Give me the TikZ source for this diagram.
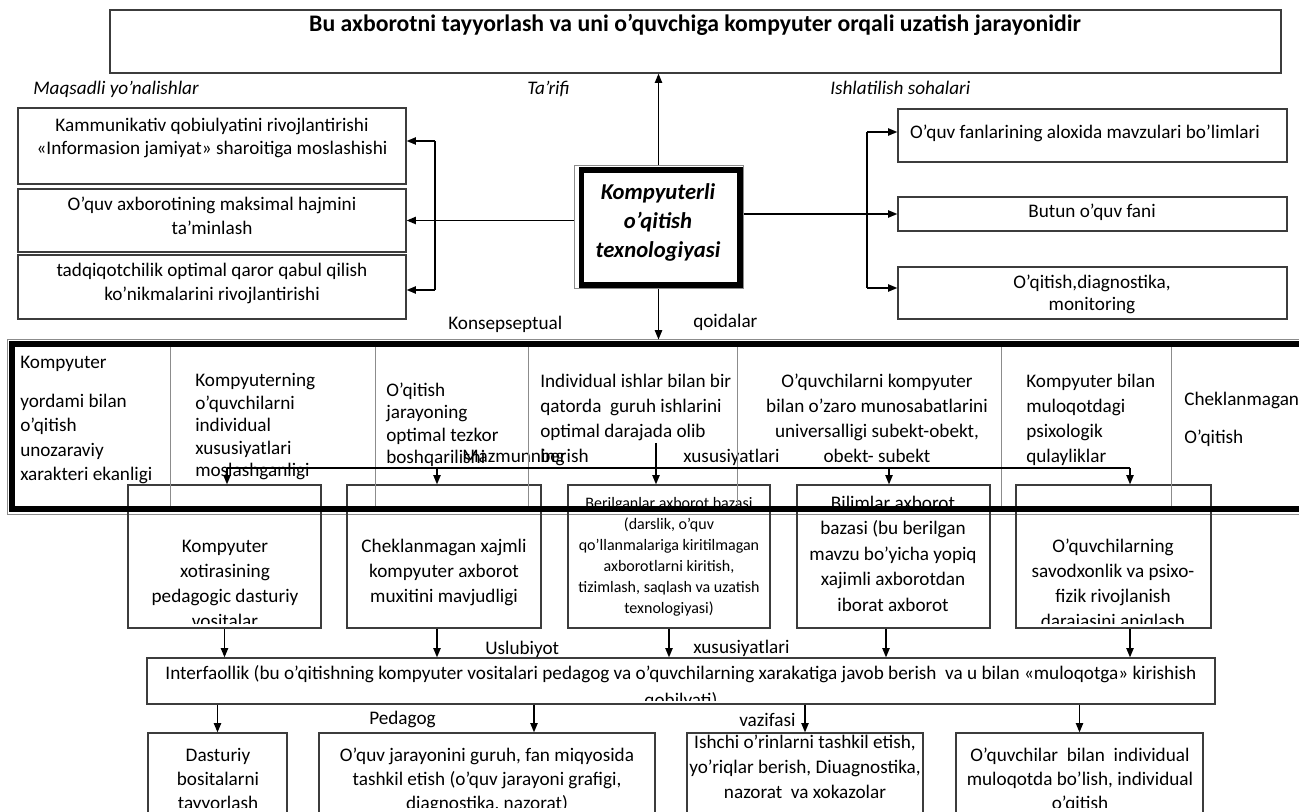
\documentclass[tikz,border=0pt]{standalone}
\usepackage{fontspec}
\setmainfont{Carlito}
\usetikzlibrary{arrows.meta,fit,calc}
\definecolor{boxc}{RGB}{60,60,60}
\definecolor{grayc}{RGB}{140,140,140}
\begin{document}
\begin{tikzpicture}[x=0.75pt,y=-0.75pt,
  box/.style={draw=boxc, line width=0.95pt, inner sep=0pt},
  ln/.style={draw=black, line width=1.05pt},
  arr/.style={ln, -{Triangle[length=7pt,width=5.5pt]}},
  txt/.style={inner sep=0pt, align=center, anchor=base, font=\fontsize{14.4}{18}\selectfont},
  ltxt/.style={txt, align=left, anchor=base west},
  lab/.style={ltxt, font=\itshape\fontsize{14.4}{18}\selectfont},
  coll/.style={draw=grayc, line width=0.6pt},
  thickbd/.style={draw=black, line width=3.8pt}
]
\useasboundingbox (0,0) rectangle (1299,812);
\fill[white] (0,0) rectangle (1299,812);
\clip (0,0) rectangle (1299,812);

% ---------- title ----------
\node[box, fit={(110,10) (1281,73)}] (T) {};
\node[txt, font=\bfseries\fontsize{17.8}{21}\selectfont] (Tt) at (695,32) {Bu axborotni tayyorlash va uni o’quvchiga kompyuter orqali uzatish jarayonidir};

\node[lab] (lm) at (33,95) {Maqsadli yo’nalishlar};
\node[lab] (lt) at (527,95) {Ta’rifi};
\node[lab] (li) at (830,95) {Ishlatilish sohalari};

% ---------- left boxes ----------
\node[box, fit={(18,108) (406,184)}] (L1) {};
\node[txt, font=\fontsize{14.4}{17.25}\selectfont] (L1t) at (212,155) {Kammunikativ qobiulyatini rivojlantirishi\\«Informasion jamiyat» sharoitiga moslashishi};
\node[box, fit={(18,189) (406,252)}] (L2) {};
\node[txt] (L2t) at (212,235) {O’quv axborotining maksimal hajmini\\ta’minlash};
\node[box, fit={(18,255) (406,319)}] (L3) {};
\node[txt] (L3t) at (212,301) {tadqiqotchilik optimal qaror qabul qilish\\ko’nikmalarini rivojlantirishi};

% ---------- centre ----------
\node[fit={(574,166) (743,289)}, inner sep=0pt, draw=grayc, line width=0.75pt] (C) {};
\draw[thickbd] ($(C.north west)+(8,4.5)$) rectangle ($(C.south east)+(-3.5,-4.5)$);
\node[txt, font=\bfseries\itshape\fontsize{17}{22}\selectfont] (Ct) at (658,258) {Kompyuterli\\o’qitish\\texnologiyasi};

% ---------- right boxes ----------
\node[box, fit={(898,109) (1287,162)}] (R1) {};
\node[txt] (R1t) at (1085,139) {O’quv fanlarining aloxida mavzulari bo’limlari};
\node[box, fit={(898,197) (1287,231)}] (R2) {};
\node[txt] (R2t) at (1092,218) {Butun o’quv fani};
\node[box, fit={(898,267) (1287,319)}] (R3) {};
\node[txt, font=\fontsize{14.4}{16.5}\selectfont] (R3t) at (1092,311) {O’qitish,diagnostika,\\monitoring};

% ---------- top connectors ----------
\draw[arr] (C.north) -- (C.north |- T.south);
\draw[arr] (L2.east -| C.west) -- (L2.east);
\coordinate (lvt) at (435,141);
\coordinate (lvb) at (435,290);
\draw[ln] (lvt) -- (lvb);
\draw[arr] (lvt) -- (lvt -| L1.east);
\draw[arr] (lvb) -- (lvb -| L3.east);
\draw[arr] (R2.west -| C.east) -- (R2.west);
\coordinate (rvt) at (867,132);
\coordinate (rvb) at (867,288);
\draw[ln] (rvt) -- (rvb);
\draw[arr] (rvt) -- (rvt -| R1.west);
\draw[arr] (rvb) -- (rvb -| R3.west);

\node[ltxt] (kons) at (448,330) {Konsepseptual};
\node[ltxt] (qoid) at (693,328) {qoidalar};

% ---------- table ----------
\node[fit={(7,340) (1310,514)}, inner sep=0pt, draw=grayc, line width=0.75pt] (TB) {};
\draw[arr] (C.south) -- (C.south |- TB.north);

\node[ltxt] (c1a) at (20,369) {Kompyuter};
\node[ltxt, font=\fontsize{14.4}{18.4}\selectfont] (c1b) at (20,481) {yordami bilan\\o’qitish\\unozaraviy\\xarakteri ekanligi};
\node[ltxt, font=\fontsize{14.4}{16.9}\selectfont] (c2) at (195,477) {Kompyuterning\\o’quvchilarni\\individual\\xususiyatlari\\moslashganligi};
\node[ltxt, font=\fontsize{14.4}{16.9}\selectfont] (c3) at (386,464) {O’qitish\\jarayoning\\optimal tezkor\\boshqarilishi};
\node[ltxt, font=\fontsize{14.4}{18.75}\selectfont] (c4) at (540,463) {Individual ishlar bilan bir\\qatorda~ guruh ishlarini\\optimal darajada olib\\berish};
\node[txt, font=\fontsize{14.4}{18.75}\selectfont] (c5) at (877,463) {O’quvchilarni kompyuter\\bilan o’zaro munosabatlarini\\universalligi subekt-obekt,\\obekt- subekt};
\node[ltxt, font=\fontsize{14.4}{18.75}\selectfont] (c6) at (1026,463) {Kompyuter bilan\\muloqotdagi\\psixologik\\qulayliklar};
\node[ltxt, font=\fontsize{14.4}{28.5}\selectfont] (c7) at (1184,444) {Cheklanmagan\\O’qitish};
\node[ltxt] (mazm) at (462,463) {Mazmunning};
\node[ltxt] (xus1) at (683,463) {xususiyatlari};

% ---------- middle boxes ----------
\node[box, fit={(128,485) (321,628)}] (M1) {};
\begin{scope}
\clip ($(M1.south west)+(0,-5)$) rectangle (M1.north east);
\node[txt, font=\fontsize{14.4}{18.75}\selectfont] (M1t) at (225,627) {Kompyuter\\xotirasining\\pedagogic dasturiy\\vositalar};
\end{scope}
\node[box, fit={(347,485) (541,628)}] (M2) {};
\node[txt, font=\fontsize{14.4}{18.75}\selectfont] (M2t) at (444,602) {Cheklanmagan xajmli\\kompyuter axborot\\muxitini mavjudligi};
\node[box, fit={(568,485) (770,628)}] (M3) {};
\node[txt, font=\fontsize{12}{15.75}\selectfont] (M3t) at (669,613) {Berilganlar axborot bazasi\\(darslik, o’quv\\qo’llanmalariga kiritilmagan\\axborotlarni kiritish,\\tizimlash, saqlash va uzatish\\texnologiyasi)};
\node[box, fit={(797,485) (990,628)}] (M4) {};
\node[txt, font=\fontsize{14.4}{19.1}\selectfont] (M4t) at (893,611) {Bilimlar axborot\\bazasi (bu berilgan\\mavzu bo’yicha yopiq\\xajimli axborotdan\\iborat axborot};
\node[box, fit={(1016,485) (1211,628)}] (M5) {};
\begin{scope}
\clip ($(M5.south west)+(0,-5)$) rectangle (M5.north east);
\node[txt, font=\fontsize{14.4}{18.75}\selectfont] (M5t) at (1113,627) {O’quvchilarning\\savodxonlik va psixo-\\fizik rivojlanish\\darajasini aniqlash};
\end{scope}

% table borders over the texts
\draw[thickbd] ($(TB.north west)+(5.5,4.5)$) rectangle ($(TB.south east)+(-5,-5.5)$);
\foreach \cx in {170,375,528,737,1001,1171} \draw[coll] (\cx,347) -- (\cx,506);

% connectors inside table
\coordinate (hl) at (227,468);
\coordinate (h2) at (437,468);
\coordinate (h4) at (889,468);
\coordinate (hr) at (1130,468);
\draw[ln] (hl) -- (hr);
\draw[arr] (hl) -- (hl |- M1.north);
\draw[arr] (h2) -- (h2 |- M2.north);
\draw[arr] (h4) -- (h4 |- M4.north);
\draw[arr] (hr) -- (hr |- M5.north);
\coordinate (v4) at (656,443);
\draw[arr] (v4) -- (v4 |- M3.north);

% ---------- interfaollik ----------
\node[box, fit={(147,658) (1215,704)}] (I) {};
\begin{scope}
\clip ($(I.south west)+(0,-4)$) rectangle (I.north east);
\node[txt, font=\fontsize{14.4}{20.25}\selectfont] (It) at (681,706) {Interfaollik (bu o’qitishning kompyuter vositalari pedagog va o’quvchilarning xarakatiga javob berish~ va u bilan «muloqotga» kirishish\\qobilyati)};
\end{scope}
\node[ltxt] (usl) at (485,654) {Uslubiyot};
\node[ltxt] (xus2) at (693,653) {xususiyatlari};

\coordinate (a2) at (437,0);
\coordinate (a4) at (886,0);
\coordinate (a5) at (1130,0);
\draw[arr] (M1.south) -- (M1.south |- I.north);
\draw[arr] (M2.south -| a2) -- (I.north -| a2);
\draw[arr] (M3.south) -- (M3.south |- I.north);
\draw[arr] (M4.south -| a4) -- (I.north -| a4);
\draw[arr] (M5.south -| a5) -- (I.north -| a5);

% ---------- bottom boxes ----------
\node[box, fit={(148,733) (287,830)}] (B1) {};
\node[box, fit={(319,733) (655,830)}] (B2) {};
\node[box, fit={(687,733) (923,830)}] (B3) {};
\node[box, fit={(956,733) (1203,830)}] (B4) {};
\begin{scope}
\clip (0,0) rectangle (1299,807);
\node[txt] (B1t) at (218,809) {Dasturiy\\bositalarni\\tayyorlash};
\node[txt] (B2t) at (487,809) {O’quv jarayonini guruh, fan miqyosida\\tashkil etish (o’quv jarayoni grafigi,\\diagnostika, nazorat)};
\node[txt, font=\fontsize{14.4}{18.4}\selectfont] (B3t) at (805,798) {Ishchi o’rinlarni tashkil etish,\\yo’riqlar berish, Diuagnostika,\\nazorat~ va xokazolar};
\node[txt] (B4t) at (1080,809) {O’quvchilar~ bilan~ individual\\muloqotda bo’lish, individual\\o’qitish};
\end{scope}

\node[ltxt] (ped) at (369,724) {Pedagog};
\node[ltxt] (vaz) at (739,726) {vazifasi};

\coordinate (b2) at (534,0);
\draw[arr] (I.south -| B1.north) -- (B1.north);
\draw[arr] (I.south -| b2) -- (B2.north -| b2);
\draw[arr] (I.south -| B3.north) -- (B3.north);
\draw[arr] (I.south -| B4.north) -- (B4.north);
\end{tikzpicture}
\end{document}
